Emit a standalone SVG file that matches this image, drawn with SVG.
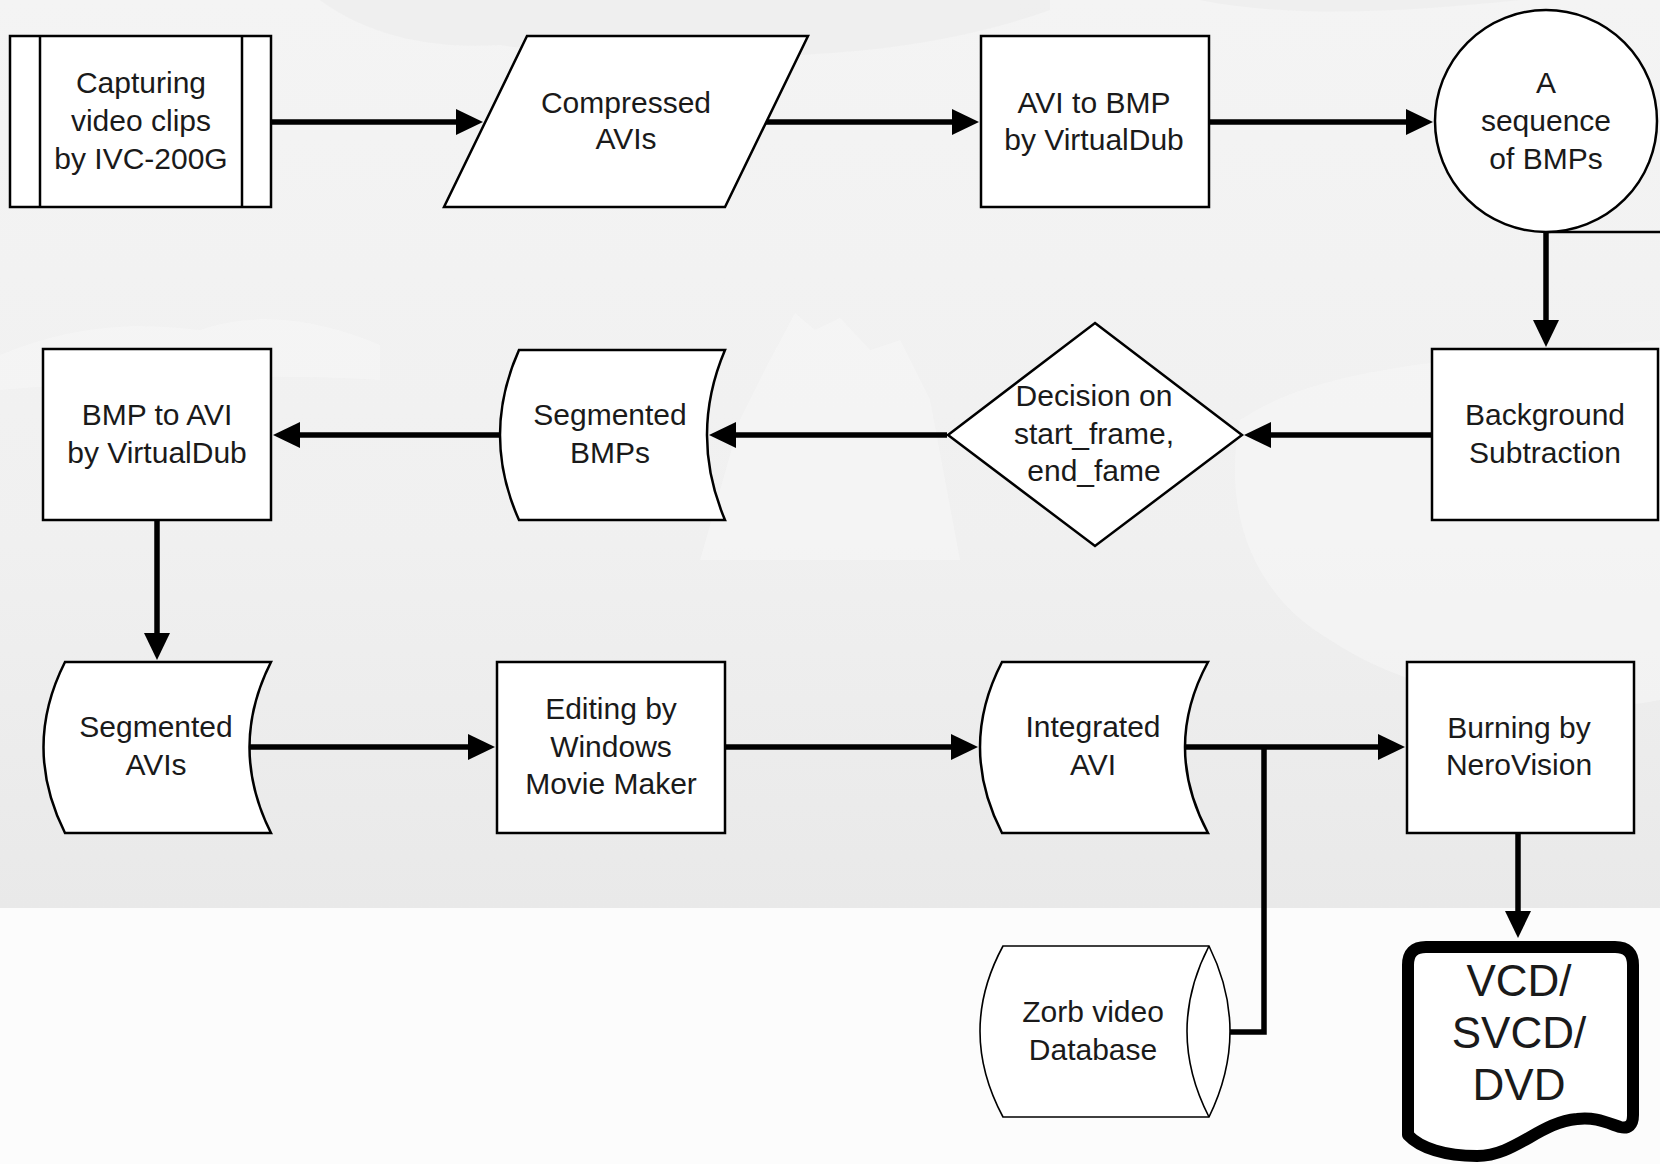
<svg xmlns="http://www.w3.org/2000/svg" width="1660" height="1164" viewBox="0 0 1660 1164">
<defs>
<linearGradient id="bg" x1="0" y1="0" x2="0" y2="1">
<stop offset="0" stop-color="#f4f4f4"/>
<stop offset="0.6" stop-color="#f0f0f0"/>
<stop offset="1" stop-color="#e9e9e9"/>
</linearGradient>
<marker id="ah" markerUnits="userSpaceOnUse" markerWidth="28" markerHeight="28" viewBox="0 0 28 28" refX="1" refY="14" orient="auto">
<path d="M0,1 L27,14 L0,27 Z" fill="#000"/>
</marker>
<style>
.n{fill:#fff;stroke:#000;stroke-width:2.5;stroke-linejoin:miter}
.thin{fill:#fff;stroke:#000;stroke-width:1.6}
.t{font-family:"Liberation Sans",Arial,sans-serif;font-size:30px;fill:#1a1a1a;text-anchor:middle}
.big{font-family:"Liberation Sans",Arial,sans-serif;font-size:44px;fill:#1a1a1a;text-anchor:middle}
.c{fill:none;stroke:#000;stroke-width:5.5;stroke-linecap:butt}
.ca{fill:none;stroke:#000;stroke-width:5.5;stroke-linecap:butt;marker-end:url(#ah)}
</style>
</defs>
<rect x="0" y="0" width="1660" height="1164" fill="#fcfcfc"/>
<rect x="0" y="0" width="1660" height="908" fill="url(#bg)"/>
<g id="clouds" opacity="0.4">
<path d="M320,0 C360,30 420,50 500,45 C600,60 700,40 800,55 C900,50 980,35 1050,10 L1050,0 Z" fill="#e9e9e9"/>
<path d="M0,355 C60,330 120,320 200,330 C260,310 320,320 380,345 L380,380 C260,372 120,380 0,390 Z" fill="#fafafa"/>
<path d="M700,560 L740,420 L770,360 L795,313 L815,330 L840,318 L870,350 L900,340 L930,400 L960,560 Z" fill="#fafafa"/>
<path d="M1240,420 C1300,380 1380,370 1450,360 L1660,340 L1660,700 C1560,720 1420,700 1330,640 C1260,600 1220,520 1240,420 Z" fill="#f9f9f9"/>
<path d="M1200,0 C1300,20 1420,10 1520,0 Z" fill="#e8e8e8"/>
</g>
<g id="connectors">
<line class="ca" x1="271" y1="122" x2="457" y2="122"/>
<line class="ca" x1="766" y1="122" x2="953" y2="122"/>
<line class="ca" x1="1208" y1="122" x2="1407" y2="122"/>
<line class="ca" x1="1546" y1="232" x2="1546" y2="321"/>
<line class="ca" x1="1432" y1="435" x2="1270" y2="435"/>
<line class="ca" x1="947" y1="435" x2="735" y2="435"/>
<line class="ca" x1="500" y1="435" x2="299" y2="435"/>
<line class="ca" x1="157" y1="520" x2="157" y2="634"/>
<line class="ca" x1="249" y1="747" x2="469" y2="747"/>
<line class="ca" x1="725" y1="747" x2="952" y2="747"/>
<line class="ca" x1="1185" y1="747" x2="1379" y2="747"/>
<polyline class="c" points="1264,747 1264,1032 1229,1032"/>
<line class="ca" x1="1518" y1="833" x2="1518" y2="912"/>
</g>
<g id="capture">
<rect class="n" x="10" y="36" width="261" height="171"/>
<line x1="40" y1="36" x2="40" y2="207" stroke="#000" stroke-width="2.5"/>
<line x1="242" y1="36" x2="242" y2="207" stroke="#000" stroke-width="2.5"/>
<text class="t" x="141" y="93">Capturing</text>
<text class="t" x="141" y="131">video clips</text>
<text class="t" x="141" y="169">by IVC-200G</text>
</g>
<g id="compressed">
<polygon class="n" points="527,36 808,36 725,207 444,207"/>
<text class="t" x="626" y="113">Compressed</text>
<text class="t" x="626" y="149">AVIs</text>
</g>
<g id="avi2bmp">
<rect class="n" x="981" y="36" width="228" height="171"/>
<text class="t" x="1094" y="113">AVI to BMP</text>
<text class="t" x="1094" y="150">by VirtualDub</text>
</g>
<g id="sequence">
<line x1="1546" y1="232" x2="1660" y2="232" stroke="#000" stroke-width="2.5"/>
<circle class="n" cx="1546" cy="121" r="111"/>
<text class="t" x="1546" y="93">A</text>
<text class="t" x="1546" y="131">sequence</text>
<text class="t" x="1546" y="169">of BMPs</text>
</g>
<g id="background">
<rect class="n" x="1432" y="349" width="226" height="171"/>
<text class="t" x="1545" y="425">Background</text>
<text class="t" x="1545" y="463">Subtraction</text>
</g>
<g id="decision">
<polygon class="n" points="1095,323 1242,435 1095,546 948,435"/>
<text class="t" x="1094" y="406">Decision on</text>
<text class="t" x="1094" y="444">start_frame,</text>
<text class="t" x="1094" y="481">end_fame</text>
</g>
<g id="segbmps">
<path class="n" d="M519,350 H725 Q689,435 725,520 H519 Q481,435 519,350 Z"/>
<text class="t" x="610" y="425">Segmented</text>
<text class="t" x="610" y="463">BMPs</text>
</g>
<g id="bmp2avi">
<rect class="n" x="43" y="349" width="228" height="171"/>
<text class="t" x="157" y="425">BMP to AVI</text>
<text class="t" x="157" y="463">by VirtualDub</text>
</g>
<g id="segavis">
<path class="n" d="M65,662 H271 Q228,747 271,833 H65 Q22,747 65,662 Z"/>
<text class="t" x="156" y="737">Segmented</text>
<text class="t" x="156" y="775">AVIs</text>
</g>
<g id="editing">
<rect class="n" x="497" y="662" width="228" height="171"/>
<text class="t" x="611" y="719">Editing by</text>
<text class="t" x="611" y="757">Windows</text>
<text class="t" x="611" y="794">Movie Maker</text>
</g>
<g id="integrated">
<path class="n" d="M1002,662 H1208 Q1162,747 1208,833 H1002 Q958,747 1002,662 Z"/>
<text class="t" x="1093" y="737">Integrated</text>
<text class="t" x="1093" y="775">AVI</text>
</g>
<g id="burning">
<rect class="n" x="1407" y="662" width="227" height="171"/>
<text class="t" x="1519" y="738">Burning by</text>
<text class="t" x="1519" y="775">NeroVision</text>
</g>
<g id="zorb">
<path class="thin" d="M1003,946 H1209 Q1251,1031 1209,1117 H1003 Q957,1031 1003,946 Z"/>
<path fill="none" stroke="#000" stroke-width="1.6" d="M1209,946 Q1165,1031 1209,1117"/>
<text class="t" x="1093" y="1022">Zorb video</text>
<text class="t" x="1093" y="1060">Database</text>
</g>
<g id="vcd">
<path fill="#fff" stroke="#000" stroke-width="12" stroke-linejoin="round" d="M1426,947 H1615 Q1633,947 1633,965 V1115 Q1633,1130 1620,1127 C1605,1122 1595,1117 1577,1119 C1540,1122 1515,1156 1477,1156 C1445,1156 1420,1148 1408,1135 V965 Q1408,947 1426,947 Z"/>
<text class="big" x="1519" y="996">VCD/</text>
<text class="big" x="1519" y="1048">SVCD/</text>
<text class="big" x="1519" y="1100">DVD</text>
</g>
</svg>
